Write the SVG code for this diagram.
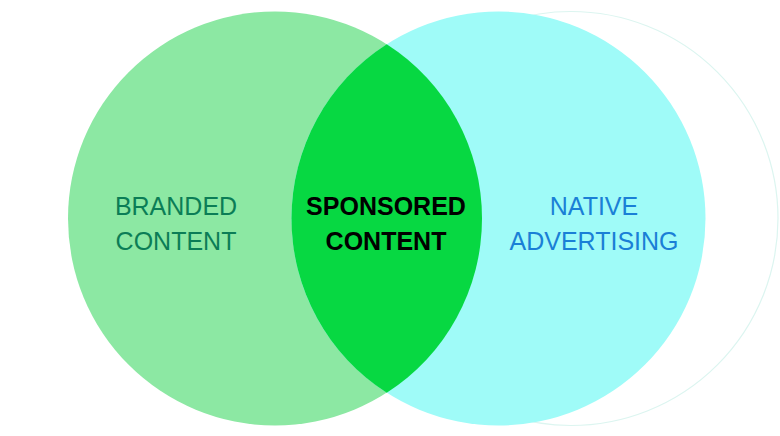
<svg xmlns="http://www.w3.org/2000/svg" width="780" height="436" viewBox="0 0 780 436">
<style>
.lbl{font-family:"Liberation Sans","Noto Sans",sans-serif;font-size:25px;text-anchor:middle}
</style>
<rect width="780" height="436" fill="#ffffff"/>
<g id="outline"><circle cx="571" cy="218.5" r="207" fill="none" stroke="#dcf5f0" stroke-width="1.2"/></g>
<g id="branded"><circle cx="275" cy="218.5" r="207" fill="#8ce8a3"/></g>
<g id="native"><circle cx="498.5" cy="218.5" r="207" fill="#9ffbf8"/></g>
<g id="sponsored"><path d="M386.75,44.25 A207,207 0 0 1 386.75,392.75 A207,207 0 0 1 386.75,44.25 Z" fill="#07d842"/></g>
<g id="labels">
<text class="lbl" x="176" y="215" fill="#0b7d56">BRANDED</text>
<text class="lbl" x="176" y="250" fill="#0b7d56">CONTENT</text>
<text class="lbl" x="386" y="215" fill="#000000" font-weight="bold">SPONSORED</text>
<text class="lbl" x="386" y="250" fill="#000000" font-weight="bold">CONTENT</text>
<text class="lbl" x="594" y="215" fill="#1a7fd6">NATIVE</text>
<text class="lbl" x="594" y="250" fill="#1a7fd6">ADVERTISING</text>
</g>
</svg>
